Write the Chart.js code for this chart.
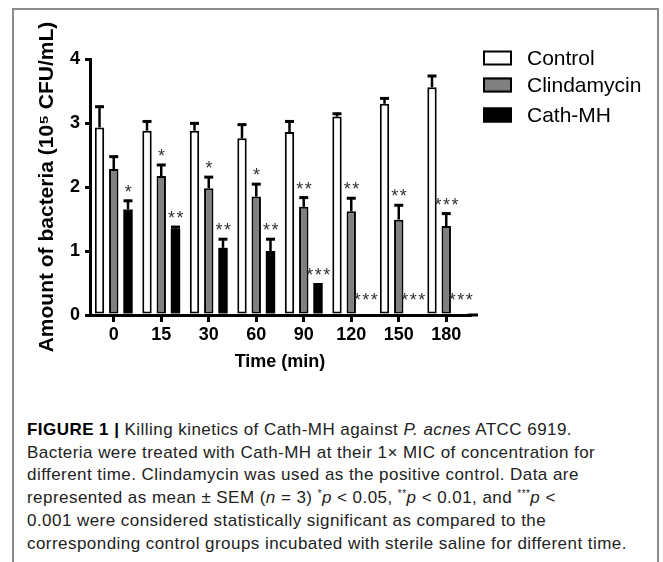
<!DOCTYPE html>
<html>
<head>
<meta charset="utf-8">
<script src="https://cdn.jsdelivr.net/npm/chart.js@4/dist/chart.umd.min.js"></script>
<style>
  html, body { margin: 0; padding: 0; background: #fff; }
  body { width: 663px; height: 562px; position: relative; overflow: hidden; }
  .frame {
    position: absolute; left: 12px; top: 8px; width: 647px; height: 600px;
    border: 2px solid #8c8c8c; box-sizing: border-box;
  }
  .plot { position: absolute; left: 0; top: 0; width: 641px; height: 380px; }
  .caption {
    position: absolute; left: 27px; top: 419px;
    font-family: "Liberation Sans", Arial, sans-serif; font-size: 17px;
    letter-spacing: 0.45px; line-height: 22.7px; color: #222; white-space: nowrap;
  }
  .caption b { color: #000; }
  .caption sup { font-size: 10px; line-height: 0; vertical-align: 0; position: relative; top: -6px; }
</style>
</head>
<body>
<div class="frame"></div>
<div class="plot"><canvas id="killChart" width="641" height="380"></canvas></div>
<div class="caption">
  <b>FIGURE 1 |</b> Killing kinetics of Cath-MH against <i>P. acnes</i> ATCC 6919.<br>
  Bacteria were treated with Cath-MH at their 1× MIC of concentration for<br>
  different time. Clindamycin was used as the positive control. Data are<br>
  represented as mean ± SEM (<i>n</i> = 3) <sup>*</sup><i>p</i> &lt; 0.05, <sup>**</sup><i>p</i> &lt; 0.01, and <sup>***</sup><i>p</i> &lt;<br>
  0.001 were considered statistically significant as compared to the<br>
  corresponding control groups incubated with sterile saline for different time.
</div>
<script>
// time points (min)
const timeLabels = ['0', '15', '30', '60', '90', '120', '150', '180'];

// means, 10^5 CFU/mL
const controlMean = [2.93, 2.88, 2.88, 2.76, 2.86, 3.10, 3.30, 3.56];
const clindaMean  = [2.28, 2.17, 1.98, 1.85, 1.69, 1.62, 1.49, 1.39];
const cathMean    = [1.65, 1.35, 1.05, 1.00, 0.50, 0, 0, 0];

// SEM (upper whisker only)
const controlErr = [0.34, 0.16, 0.13, 0.23, 0.18, 0.06, 0.10, 0.19];
const clindaErr  = [0.21, 0.19, 0.19, 0.21, 0.16, 0.22, 0.24, 0.21];
const cathErr    = [0.15, 0.04, 0.15, 0.20, 0, 0, 0, 0];

// significance marks
const controlSig = ['', '', '', '', '', '', '', ''];
const clindaSig  = ['', '*', '*', '*', '**', '**', '**', '***'];
const cathSig    = ['*', '**', '**', '**', '***', '***', '***', '***'];

const yTicks = [0, 1, 2, 3, 4];

const errSets = [controlErr, clindaErr, cathErr];
const sigSets = [controlSig, clindaSig, cathSig];

const ink = '#000';

// error bars, stars, legend, axis tail
const extrasPlugin = {
    id: 'extras',
    afterDraw(chart) {
        const ctx = chart.ctx;
        const yScale = chart.scales.y;
        const area = chart.chartArea;

        ctx.save();
        chart.data.datasets.forEach((ds, d) => {
            const meta = chart.getDatasetMeta(d);
            meta.data.forEach((bar, i) => {
                const err = errSets[d][i];
                const top = yScale.getPixelForValue(ds.data[i] + err);
                if (err > 0) {
                    ctx.strokeStyle = ink;
                    ctx.lineWidth = 2.5;
                    ctx.beginPath();
                    ctx.moveTo(bar.x, bar.y);
                    ctx.lineTo(bar.x, top);
                    ctx.stroke();
                    ctx.lineWidth = 3;
                    ctx.beginPath();
                    ctx.moveTo(bar.x - 4.5, top + 1);
                    ctx.lineTo(bar.x + 4.5, top + 1);
                    ctx.stroke();
                }
                const mark = sigSets[d][i];
                if (mark) {
                    ctx.fillStyle = '#333';
                    ctx.font = '18px "Liberation Sans", Arial, sans-serif';
                    ctx.textAlign = 'center';
                    ctx.textBaseline = 'middle';
                    ctx.letterSpacing = '1.5px';
                    const gap = ds.data[i] === 0 ? 14 : 7;
                    ctx.fillText(mark, bar.x + 1, top - gap);
                }
            });
        });

        // x axis runs a bit past the last group
        ctx.strokeStyle = ink;
        ctx.lineWidth = 3;
        ctx.beginPath();
        ctx.moveTo(area.right - 2, area.bottom);
        ctx.lineTo(area.right + 8, area.bottom);
        ctx.stroke();

        // legend
        const lx = area.right + 13;
        const rows = [58, 85, 115];
        ctx.letterSpacing = '0px';
        ctx.font = '21px "Liberation Sans", Arial, sans-serif';
        ctx.textAlign = 'left';
        ctx.textBaseline = 'middle';
        chart.data.datasets.forEach((ds, d) => {
            const cy = rows[d];
            ctx.fillStyle = ds.backgroundColor;
            ctx.fillRect(lx, cy - 7.5, 29, 15);
            ctx.strokeStyle = ink;
            ctx.lineWidth = 2;
            ctx.strokeRect(lx + 1, cy - 6.5, 27, 13);
            ctx.fillStyle = ink;
            ctx.fillText(ds.label, lx + 44, cy + 1);
        });
        ctx.restore();
    }
};

const boldTick = { family: '"Liberation Sans", Arial, sans-serif', size: 18, weight: 'bold' };

new Chart(document.getElementById('killChart'), {
    type: 'bar',
    data: {
        labels: timeLabels,
        datasets: [
            { label: 'Control', data: controlMean, backgroundColor: '#ffffff', borderColor: ink, borderWidth: 2, borderSkipped: false },
            { label: 'Clindamycin', data: clindaMean, backgroundColor: '#808080', borderColor: ink, borderWidth: 2, borderSkipped: false },
            { label: 'Cath-MH', data: cathMean, backgroundColor: '#000000', borderColor: ink, borderWidth: 0, borderSkipped: false }
        ]
    },
    options: {
        responsive: false,
        animation: false,
        events: [],
        barPercentage: 0.66,
        categoryPercentage: 0.9,
        layout: { padding: { top: 59, right: 171, left: 0, bottom: 0 } },
        plugins: {
            legend: { display: false },
            tooltip: { enabled: false }
        },
        scales: {
            x: {
                z: 1,
                grid: { offset: false, drawOnChartArea: false, tickLength: 7, lineWidth: 3, color: ink },
                border: { width: 3, color: ink },
                ticks: { color: ink, font: boldTick, padding: 2, maxRotation: 0, autoSkip: false },
                title: {
                    display: true, text: 'Time (min)', color: ink,
                    font: boldTick, padding: { top: 0, bottom: 7 }
                },
                afterFit(scale) { scale.height = 65; }
            },
            y: {
                z: 1,
                min: 0,
                max: 4,
                afterBuildTicks(scale) { scale.ticks = yTicks.map(v => ({ value: v })); },
                grid: { drawOnChartArea: false, tickLength: 5, lineWidth: 3, color: ink },
                border: { width: 3, color: ink },
                ticks: { color: ink, font: boldTick, padding: 5 },
                title: {
                    display: true, text: 'Amount of bacteria (10⁵ CFU/mL)', color: ink,
                    font: { family: '"Liberation Sans", Arial, sans-serif', size: 21, weight: 'bold' },
                    padding: { top: 35, bottom: 0 }
                },
                afterFit(scale) { scale.width = 90; }
            }
        }
    },
    plugins: [extrasPlugin]
});
</script>
</body>
</html>
